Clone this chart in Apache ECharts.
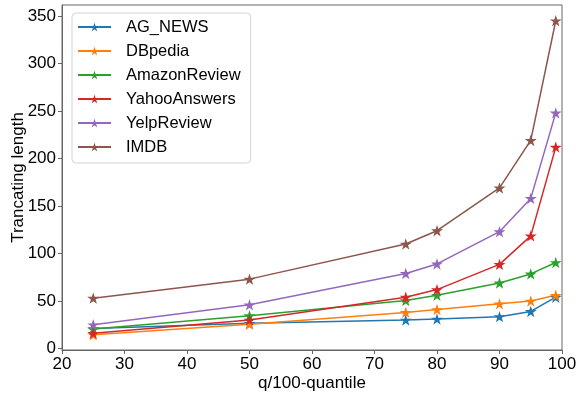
<!DOCTYPE html>
<html>
<head>
<meta charset="utf-8">
<script src="https://cdn.jsdelivr.net/npm/echarts@6/dist/echarts.min.js"></script>
<style>
  html, body { margin: 0; padding: 0; background: #fff; }
  #chart { width: 576px; height: 396px; }
</style>
</head>
<body>
<div id="chart"></div>
<script>
// Quantiles (q) at which the truncating length is measured
const quantiles = [25, 50, 75, 80, 90, 95, 99];

// Truncating length per dataset at each quantile
const agNews       = [21, 26.5, 30, 31, 33.5, 39, 54];
const dbpedia      = [14.5, 25.5, 38, 41, 47, 50, 56];
const amazonReview = [20.5, 34.5, 50.5, 56, 69, 78.5, 90.5];
const yahooAnswers = [16, 30, 54, 62, 88.5, 118.5, 212];
const yelpReview   = [25, 46, 79, 89, 123, 158, 248];
const imdb         = [53, 73, 110, 124, 169, 219, 345];

const seriesNames = ['AG_NEWS', 'DBpedia', 'AmazonReview', 'YahooAnswers', 'YelpReview', 'IMDB'];
const seriesData  = [agNews, dbpedia, amazonReview, yahooAnswers, yelpReview, imdb];
const colors = ['#1f77b4', '#ff7f0e', '#2ca02c', '#d62728', '#9467bd', '#8c564b'];

const yTicks = [0, 50, 100, 150, 200, 250, 300, 350];

// Five-pointed star marker
const star = 'path://M0,-100L22.45,-30.9L95.1,-30.9L36.3,11.8L58.8,80.9L0,38.2L-58.8,80.9L-36.3,11.8L-95.1,-30.9L-22.45,-30.9Z';

const font = 'Liberation Sans, Arial, sans-serif';

const chart = echarts.init(document.getElementById('chart'), null, { renderer: 'canvas' });

chart.setOption({
  animation: false,
  backgroundColor: '#fff',
  color: colors,
  textStyle: { fontFamily: font },
  grid: {
    left: 62, right: 14, top: 5, bottom: 46,
    containLabel: false,
    outerBoundsMode: 'none',
    show: true, borderColor: '#666', borderWidth: 1, backgroundColor: 'transparent'
  },
  legend: {
    orient: 'vertical',
    left: 72,
    top: 13,
    width: 175,
    itemWidth: 33,
    itemHeight: 11,
    itemGap: 6,
    padding: [5, 10, 7, 5],
    backgroundColor: 'rgba(255,255,255,0.85)',
    borderColor: '#d4d4d4',
    borderWidth: 1,
    borderRadius: 4,
    textStyle: { fontFamily: font, fontSize: 16.5, color: '#000', padding: [0, 0, 0, 10], lineHeight: 18 },
    data: seriesNames
  },
  xAxis: {
    type: 'value',
    min: 20,
    max: 100,
    interval: 10,
    name: 'q/100-quantile',
    nameLocation: 'middle',
    nameGap: 25,
    nameMoveOverlap: false,
    nameTextStyle: { fontFamily: font, fontSize: 17, color: '#000' },
    axisLine: { show: true, onZero: false, lineStyle: { color: '#666', width: 1 } },
    axisTick: { show: true, length: 4, lineStyle: { color: '#666' } },
    axisLabel: { fontFamily: font, fontSize: 17, color: '#000', margin: 6 },
    splitLine: { show: false }
  },
  yAxis: {
    type: 'value',
    min: -1.6,
    max: 361.6,
    name: 'Trancating length',
    nameLocation: 'middle',
    nameGap: 35,
    nameMoveOverlap: false,
    nameTextStyle: { fontFamily: font, fontSize: 17, color: '#000' },
    axisLine: { show: true, onZero: false, lineStyle: { color: '#666', width: 1 } },
    axisTick: { show: true, length: 4, customValues: yTicks, lineStyle: { color: '#666' } },
    axisLabel: { fontFamily: font, fontSize: 17, color: '#000', margin: 6, customValues: yTicks },
    splitLine: { show: false }
  },
  series: seriesNames.map((name, i) => ({
    name: name,
    type: 'line',
    data: quantiles.map((q, j) => [q, seriesData[i][j]]),
    symbol: star,
    symbolSize: 12,
    symbolKeepAspect: true,
    showAllSymbol: true,
    lineStyle: { width: 1.5, color: colors[i] },
    itemStyle: { color: colors[i] },
    emphasis: { disabled: true }
  }))
});
</script>
</body>
</html>
